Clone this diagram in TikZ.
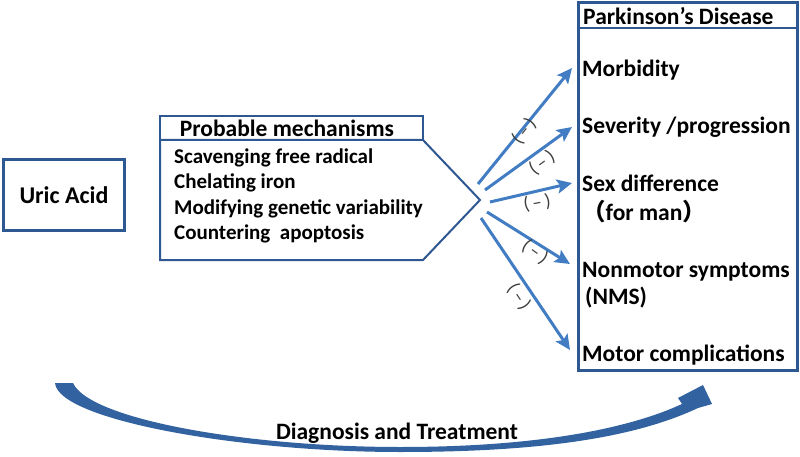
\documentclass[tikz,border=0pt]{standalone}
\usepackage{fontspec}
\setmainfont{Carlito}
\newfontfamily\cjk{Noto Sans CJK SC}
\usetikzlibrary{arrows.meta}
\definecolor{boxblue}{RGB}{46,88,145}
\definecolor{arrblue}{RGB}{66,125,195}
\definecolor{swblue}{RGB}{50,98,160}
\definecolor{labgray}{RGB}{60,60,60}
\begin{document}
\begin{tikzpicture}[x=1pt,y=-1pt,
  bt/.style={font=\bfseries\fontsize{23.5}{26}\selectfont, inner sep=0pt},
  lt/.style={font=\bfseries\fontsize{21}{24}\selectfont, inner sep=0pt, anchor=west},
  item/.style={bt, anchor=west},
  frame/.style={draw=boxblue, line width=3pt},
  conn/.style={arrblue, line width=3pt, -{Stealth[length=15pt,width=14pt,inset=3pt]}},
  lab/.style={font=\fontsize{19}{19}\selectfont, text=labgray, inner sep=0pt}]
\useasboundingbox (0,0) rectangle (800,457);

% Uric acid
\node[frame, bt, font=\bfseries\fontsize{24}{26}\selectfont, minimum width=121pt, minimum height=70pt] (uric) at (64,195) {Uric Acid};

% Probable mechanisms
\node[draw=boxblue, line width=2.5pt, minimum width=263pt, minimum height=24pt] (mechhead) at (291.5,128) {};
\node[bt] (mechtitle) at (287,128) {Probable mechanisms};
\coordinate (hub) at (480,200);
\draw[boxblue, line width=2pt] (160,140) -- (423,140) -- (hub) -- (423,260) -- (160,260) -- cycle;
\node[lt] (m1) at (174,158) {Scavenging free radical};
\node[lt] (m2) at (174,183) {Chelating iron};
\node[lt] (m3) at (174,209) {Modifying genetic variability};
\node[lt] (m4) at (174,234) {Countering\ \ apoptosis};

% Parkinson's disease box
\node[frame, minimum width=219pt, minimum height=367pt] (pd) at (687.5,186.5) {};
\node[draw=boxblue, line width=2.5pt, minimum width=219pt, minimum height=25pt] (pdhead) at (687.5,15.5) {};
\node[item] (pdtitle) at (583,16) {Parkinson’s Disease};
\node[item] (morb) at (582,70) {Morbidity};
\node[item] (sev) at (582,127) {Severity /progression};
\node[item] (sex) at (582,183) {Sex difference};
\node[item] (forman) at (582,212) {{\cjk （}for man{\cjk ）}};
\node[item] (nms) at (582,272) {Nonmotor symptoms};
\node[item] (nmsb) at (585,298) {(NMS)};
\node[item] (motor) at (582,355) {Motor complications};

% arrows
\coordinate (s1) at (478,184);
\coordinate (s2) at (485,190);
\coordinate (s3) at (490,202);
\coordinate (s4) at (487,212);
\coordinate (s5) at (481,218);
\coordinate (e1) at (572,68);
\coordinate (e2) at (572,127);
\coordinate (e3) at (572,183);
\coordinate (e4) at (570,264);
\coordinate (e5) at (570,350);
\draw[conn] (s1) -- (e1);
\draw[conn] (s2) -- (e2);
\draw[conn] (s3) -- (e3);
\draw[conn] (s4) -- (e4);
\draw[conn] (s5) -- (e5);

\node[lab, rotate=52] (l1) at (524,131) {(\,–\,)};
\node[lab, rotate=36] (l2) at (542,163) {(\,–\,)};
\node[lab, rotate=10] (l3) at (537,203) {(\,–\,)};
\node[lab, rotate=-36] (l4) at (535,252) {(\,–\,)};
\node[lab, rotate=-56] (l5) at (519,297) {(\,–\,)};

% bottom swoosh
\fill[swblue] (55,383) -- (73,383)
  .. controls (90,420) and (250,447) .. (400,447)
  .. controls (540,447) and (630,428) .. (682,404)
  -- (678,398) -- (703,385) -- (712,404) -- (698,408)
  .. controls (630,440) and (530,452) .. (400,452)
  .. controls (240,452) and (58,420) .. (55,383) -- cycle;
\node[bt] (dt) at (397,433) {Diagnosis and Treatment};
\end{tikzpicture}
\end{document}
